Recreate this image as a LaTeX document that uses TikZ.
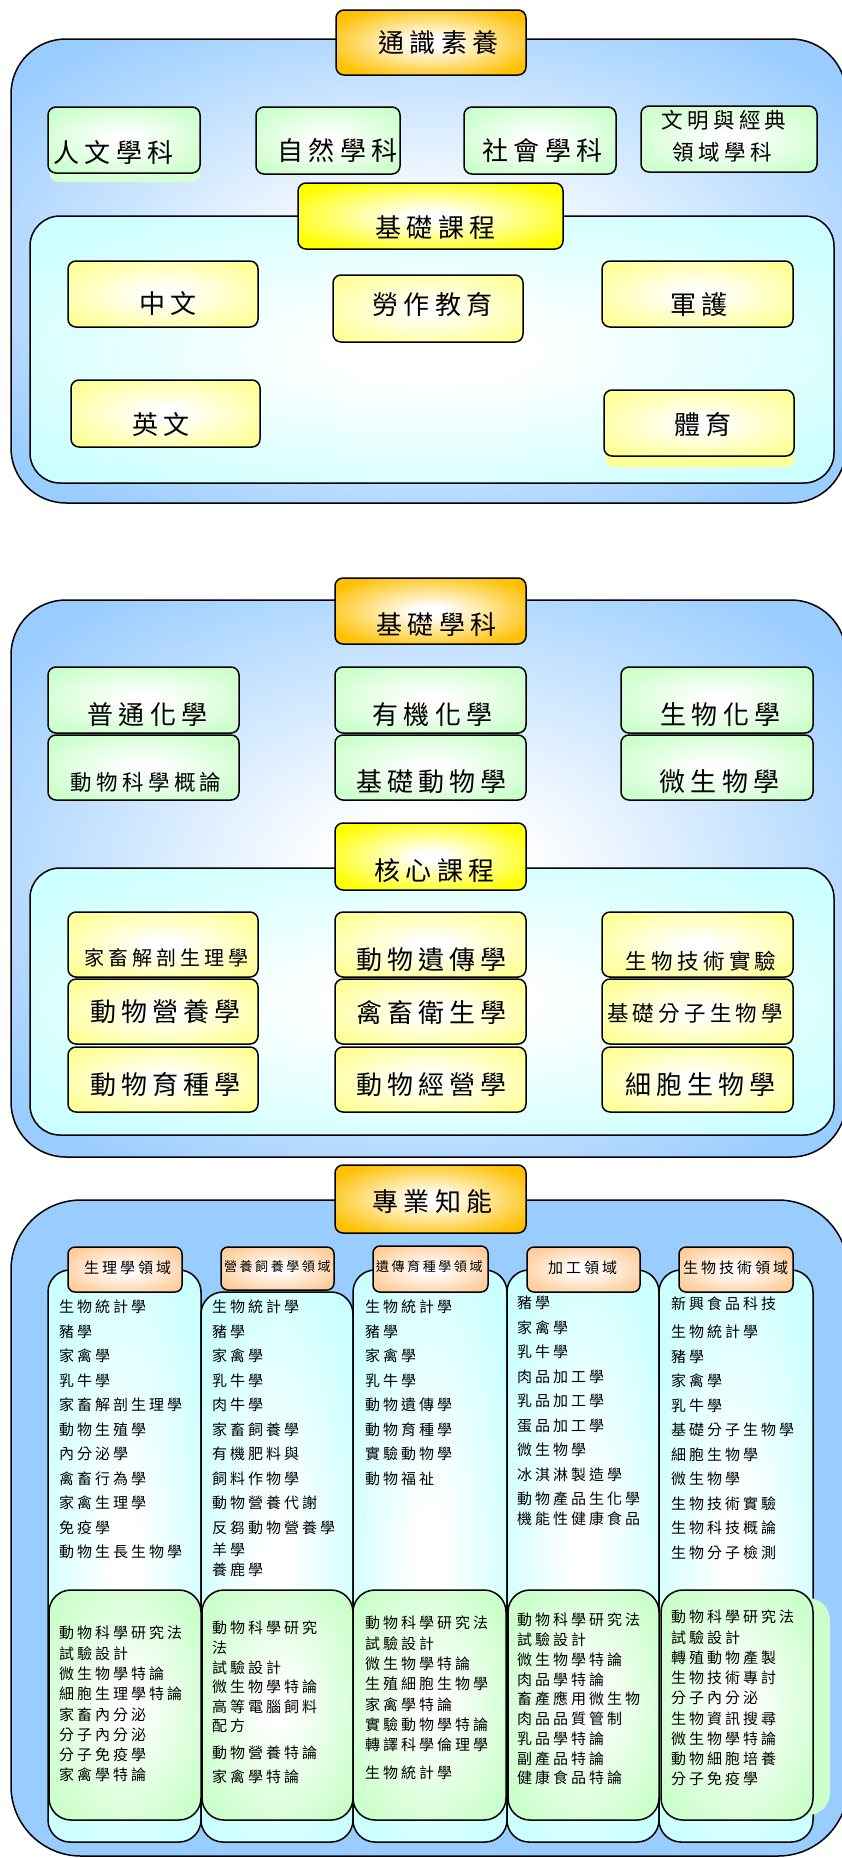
\documentclass[tikz,border=0pt]{standalone}
\usepackage{fontspec}
\newfontfamily\cjk[LetterSpace=20]{Noto Sans CJK TC}
\definecolor{sblue}{RGB}{153,204,255}
\definecolor{scyan}{RGB}{204,255,255}
\definecolor{sgreen}{RGB}{204,255,204}
\definecolor{syellow}{RGB}{255,255,153}
\definecolor{sgold}{RGB}{255,192,0}
\definecolor{sbright}{RGB}{255,255,0}
\definecolor{speach}{RGB}{255,204,153}
\makeatletter
\pgfdeclareradialshading[tikz@radial@inner,tikz@radial@outer]{glow}{\pgfpointorigin}{color(0bp)=(tikz@radial@inner); color(6bp)=(tikz@radial@inner); color(32bp)=(tikz@radial@outer); color(50bp)=(tikz@radial@outer)}
\pgfdeclareradialshading[tikz@radial@inner,tikz@radial@outer]{glowb}{\pgfpointorigin}{color(0bp)=(tikz@radial@inner); color(4bp)=(tikz@radial@inner); color(30bp)=(tikz@radial@outer); color(50bp)=(tikz@radial@outer)}
\makeatother
\tikzset{
  bx/.style={draw=black, line width=1.5pt, inner sep=0pt, outer sep=0pt, anchor=north west, rounded corners=#1},
  sec/.style={bx=55pt, inner color=white, outer color=sblue, shading=glow},
  secflat/.style={bx=70pt, fill=sblue},
  inbox/.style={bx=30pt, inner color=white, outer color=scyan, shading=glow},
  goldtab/.style={bx=8pt, inner color=white, outer color=sgold, shading=glowb},
  ytab/.style={bx=8pt, inner color=white, outer color=sbright, shading=glowb},
  gbox/.style={bx=8pt, inner color=white, outer color=sgreen, shading=glowb},
  ybox/.style={bx=8pt, inner color=white, outer color=syellow, shading=glowb},
  ptab/.style={bx=7pt, inner color=white, outer color=speach, shading=glowb},
  colcard/.style={bx=22pt, inner color=white, outer color=scyan, shading=glowb},
  gcard/.style={bx=22pt, inner color=white, outer color=sgreen, shading=glowb},
  ghost/.style={draw=none, inner sep=0pt, outer sep=0pt, anchor=north west, rounded corners=#1},
  txt/.style={font={\cjk\fontsize{#1}{#1}\selectfont}, inner sep=0pt, xshift={#1*0.1pt}},
  lst/.style={font={\cjk\fontsize{15}{#1}\selectfont}, align=left, anchor=north west, inner sep=0pt},
}
\newcommand\mkbox[6]{\node[#1, minimum width={(#5-#3)*1pt}, minimum height={(#6-#4)*1pt}] (#2) at (#3,#4) {};}
\begin{document}
\begin{tikzpicture}[x=1pt,y=-1pt]
\useasboundingbox (0,0) rectangle (841,1858);
% ===== Section 1 =====
\mkbox{sec}{s1}{11}{39}{846}{503}
\mkbox{goldtab}{t1}{336}{10}{526}{75}
\mkbox{ghost=8pt, fill=sgreen!80}{sh1}{50}{114}{200}{182}
\mkbox{gbox}{b11}{48}{107}{200}{173}
\mkbox{gbox}{b12}{256}{107}{400}{174}
\mkbox{gbox}{b13}{464}{107}{616}{174}
\mkbox{gbox}{b14}{641}{106}{817}{172}
\mkbox{inbox}{c1}{30}{216}{834}{483}
\mkbox{ytab}{t2}{298}{183}{563}{249}
\mkbox{ybox}{y11}{68}{261}{258}{327}
\mkbox{ybox}{y12}{333}{275}{523}{342}
\mkbox{ybox}{y13}{602}{261}{793}{327}
\mkbox{ybox}{y14}{71}{380}{260}{447}
\mkbox{ghost=8pt, fill=syellow}{sh2}{606}{400}{794}{467}
\mkbox{ybox}{y15}{604}{390}{794}{456}
\node[txt=26] (t1t) at (436,43) {通識素養};
\node[txt=26] (b11t) at (111,152) {人文學科};
\node[txt=26] (b12t) at (335,151) {自然學科};
\node[txt=26] (b13t) at (540,151) {社會學科};
\node[txt=21.5] (b14a) at (722,120) {文明與經典};
\node[txt=21.5] (b14b) at (720,152) {領域學科};
\node[txt=26] (t2t) at (433,228) {基礎課程};
\node[txt=26] (y11t) at (165,304) {中文};
\node[txt=26] (y12t) at (430,305) {勞作教育};
\node[txt=26] (y13t) at (696,305) {軍護};
\node[txt=26] (y14t) at (158,425) {英文};
\node[txt=26] (y15t) at (700,425) {體育};
% ===== Section 2 =====
\mkbox{sec}{s2}{11}{600}{846}{1157}
\mkbox{goldtab}{t3}{335}{578}{526}{644}
\mkbox{gbox}{g21}{48}{667}{239}{733}
\mkbox{gbox}{g22}{48}{735}{239}{800}
\mkbox{gbox}{g23}{335}{667}{526}{733}
\mkbox{gbox}{g24}{335}{735}{526}{800}
\mkbox{gbox}{g25}{621}{667}{813}{733}
\mkbox{gbox}{g26}{621}{735}{813}{800}
\mkbox{inbox}{c2}{30}{868}{834}{1135}
\mkbox{ytab}{t4}{335}{823}{526}{890}
\mkbox{ybox}{y21}{68}{912}{258}{977}
\mkbox{ybox}{y22}{68}{979}{258}{1044}
\mkbox{ybox}{y23}{68}{1047}{258}{1112}
\mkbox{ybox}{y24}{335}{912}{526}{977}
\mkbox{ybox}{y25}{335}{979}{526}{1044}
\mkbox{ybox}{y26}{335}{1047}{526}{1112}
\mkbox{ybox}{y27}{602}{912}{793}{977}
\mkbox{ybox}{y28}{602}{979}{793}{1044}
\mkbox{ybox}{y29}{602}{1047}{793}{1112}
\node[txt=26] (t3t) at (434,625) {基礎學科};
\node[txt=26] (g21t) at (145,715) {普通化學};
\node[txt=21.5] (g22t) at (144,782) {動物科學概論};
\node[txt=26] (g23t) at (430,715) {有機化學};
\node[txt=26] (g24t) at (429,782) {基礎動物學};
\node[txt=26] (g25t) at (718,715) {生物化學};
\node[txt=26] (g26t) at (717,782) {微生物學};
\node[txt=26] (t4t) at (432,871) {核心課程};
\node[txt=20] (y21t) at (164,958) {家畜解剖生理學};
\node[txt=26] (y22t) at (163,1012) {動物營養學};
\node[txt=26] (y23t) at (163,1085) {動物育種學};
\node[txt=26] (y24t) at (429,960) {動物遺傳學};
\node[txt=26] (y25t) at (429,1013) {禽畜衛生學};
\node[txt=26] (y26t) at (429,1085) {動物經營學};
\node[txt=21.5] (y27t) at (699,961) {生物技術實驗};
\node[txt=21.5] (y28t) at (693,1013) {基礎分子生物學};
\node[txt=26] (y29t) at (698,1085) {細胞生物學};
% ===== Section 3 =====
\mkbox{secflat}{s3}{11}{1200}{848}{1856}
\mkbox{goldtab}{t5}{335}{1165}{526}{1233}
\mkbox{colcard}{k1}{48}{1270}{201}{1842}
\mkbox{colcard}{k2}{201}{1292}{353}{1842}
\mkbox{colcard}{k3}{353}{1270}{507}{1842}
\mkbox{colcard}{k4}{507}{1270}{659}{1842}
\mkbox{colcard}{k5}{659}{1270}{813}{1842}
\mkbox{ptab}{p1}{68}{1247}{182}{1292}
\mkbox{ptab}{p2}{221}{1247}{334}{1290}
\mkbox{ptab}{p3}{373}{1246}{488}{1292}
\mkbox{ptab}{p4}{527}{1247}{640}{1292}
\mkbox{ptab}{p5}{679}{1247}{793}{1292}
\mkbox{ghost=22pt, fill=sgreen}{sh3}{678}{1598}{830}{1815}
\mkbox{gcard}{q1}{49}{1590}{201}{1820}
\mkbox{gcard}{q2}{202}{1590}{353}{1820}
\mkbox{gcard}{q3}{353}{1590}{506}{1820}
\mkbox{gcard}{q4}{508}{1590}{659}{1820}
\mkbox{gcard}{q5}{661}{1590}{813}{1820}
\node[txt=26] (t5t) at (430,1202) {專業知能};
\node[txt=15] (p1t) at (126,1268) {生理學領域};
\node[txt=13] (p2t) at (276,1267) {營養飼養學領域};
\node[txt=13] (p3t) at (428,1267) {遺傳育種學領域};
\node[txt=15] (p4t) at (581,1268) {加工領域};
\node[txt=15] (p5t) at (734,1268) {生物技術領域};
% upper lists
\node[lst=24.5] (l1) at (59,1300) {生物統計學\\豬學\\家禽學\\乳牛學\\家畜解剖生理學\\動物生殖學\\內分泌學\\禽畜行為學\\家禽生理學\\免疫學\\動物生長生物學};
\node[lst=24.5] (l2) at (212,1300) {生物統計學\\豬學\\家禽學\\乳牛學\\肉牛學\\家畜飼養學\\有機肥料與\\飼料作物學\\動物營養代謝\\反芻動物營養學\\[-2.5pt]羊學\\[-4.5pt]養鹿學};
\node[lst=24.5] (l3) at (365,1300) {生物統計學\\豬學\\家禽學\\乳牛學\\動物遺傳學\\動物育種學\\實驗動物學\\動物福祉};
\node[lst=24.5] (l4) at (517,1296) {豬學\\家禽學\\乳牛學\\肉品加工學\\乳品加工學\\蛋品加工學\\微生物學\\冰淇淋製造學\\動物產品生化學\\[-4.5pt]機能性健康食品};
\node[lst=24.5] (l5) at (671,1297) {新興食品科技\\[3.5pt]生物統計學\\豬學\\家禽學\\乳牛學\\基礎分子生物學\\細胞生物學\\微生物學\\生物技術實驗\\生物科技概論\\生物分子檢測};
% lower lists
\node[lst=20.3] (m1) at (59,1626) {動物科學研究法\\試驗設計\\微生物學特論\\細胞生理學特論\\家畜內分泌\\分子內分泌\\分子免疫學\\家禽學特論};
\node[lst=19.6] (m2) at (212,1621) {動物科學研究\\法\\試驗設計\\微生物學特論\\高等電腦飼料\\配方\\[7.4pt]動物營養特論\\[4.4pt]家禽學特論};
\node[lst=20.3] (m3) at (365,1616) {動物科學研究法\\試驗設計\\微生物學特論\\生殖細胞生物學\\家禽學特論\\實驗動物學特論\\轉譯科學倫理學\\[7.7pt]生物統計學};
\node[lst=19.75] (m4) at (517,1613) {動物科學研究法\\試驗設計\\微生物學特論\\肉品學特論\\畜產應用微生物\\肉品品質管制\\乳品學特論\\副產品特論\\健康食品特論};
\node[lst=20.25] (m5) at (671,1610) {動物科學研究法\\試驗設計\\轉殖動物產製\\生物技術專討\\分子內分泌\\生物資訊搜尋\\微生物學特論\\動物細胞培養\\分子免疫學};
\end{tikzpicture}
\end{document}
